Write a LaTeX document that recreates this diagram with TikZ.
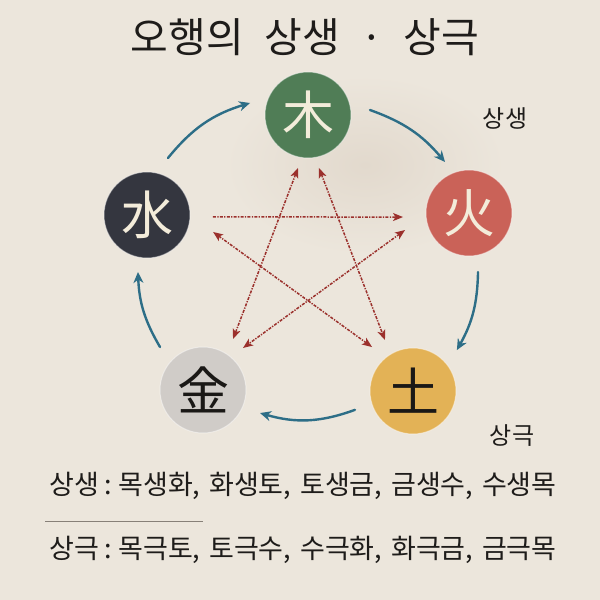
\documentclass[tikz,border=0pt]{standalone}
\usepackage{fontspec}
\newfontfamily\kr{Noto Sans CJK KR}
\usetikzlibrary{calc,arrows.meta}
\definecolor{bg}{RGB}{236,230,220}
\definecolor{blot}{RGB}{226,217,205}
\definecolor{cmu}{RGB}{80,125,86}
\definecolor{cshui}{RGB}{52,54,63}
\definecolor{chuo}{RGB}{202,98,88}
\definecolor{cjin}{RGB}{208,204,200}
\definecolor{ctu}{RGB}{227,178,86}
\definecolor{lightch}{RGB}{243,236,218}
\definecolor{darkch}{RGB}{26,24,22}
\definecolor{blueA}{RGB}{45,110,135}
\definecolor{redA}{RGB}{155,48,44}
\definecolor{txt}{RGB}{30,28,26}
\definecolor{sepc}{RGB}{135,128,120}
\newcommand{\titlefont}{\kr\fontsize{41}{41}\selectfont\spaceskip=0.5em\relax}
\newcommand{\linefont}{\kr\fontsize{27}{27}\selectfont\spaceskip=0.33em\relax}
\begin{document}
\begin{tikzpicture}[x=1pt,y=1pt,
  elem/.style={circle,minimum size=86pt,inner sep=0pt,outer sep=0pt,
    draw=white,draw opacity=0.45,line width=1pt,
    font=\kr\fontsize{52}{52}\selectfont},
  sheng/.style={draw=blueA,line width=2.4pt,line cap=round,
    -{Stealth[length=11pt,width=10pt,inset=3.5pt]}},
  kebase/.style={draw=redA,line width=1.5pt,
    dash pattern=on 3pt off 1.3pt on 1.3pt off 1.3pt},
  ke/.style={kebase,{Stealth[length=10pt,width=8pt,inset=2.5pt]}-{Stealth[length=10pt,width=8pt,inset=2.5pt]}},
  keone/.style={kebase,-{Stealth[length=10pt,width=8pt,inset=2.5pt]}},
  lbl/.style={font=\kr\fontsize{24}{24}\selectfont,text=txt,inner sep=0pt},
  line/.style={font=\linefont,text=txt,inner sep=0pt,anchor=west}
]
\useasboundingbox (0,0) rectangle (600,600);
\fill[bg] (0,0) rectangle (600,600);
\shade[inner color=blot, outer color=bg] (365,435) ellipse (140 and 90);

% title
\node[font=\titlefont,text=txt,inner sep=0pt] (title) at (305,563) {오행의 상생 · 상극};

% elements
\node[elem,fill=cmu,text=lightch] (mu) at (308,485) {木};
\node[elem,fill=chuo,text=lightch] (huo) at (469,387) {火};
\node[elem,fill=ctu,text=darkch] (tu) at (413,209) {土};
\node[elem,fill=cjin,text=darkch] (jin) at (203,210) {金};
\node[elem,fill=cshui,text=lightch] (shui) at (147,385) {水};

% sheng cycle
\draw[sheng] ($(shui)+(69.8:60.7)$) to[bend left=17] ($(mu)+(168.3:59.2)$);
\draw[sheng] ($(mu)+(4.6:62.2)$) to[bend left=15] ($(huo)+(115.2:56.4)$);
\draw[sheng] ($(huo)+(-81.3:59.7)$) to[bend left=14] ($(tu)+(43:60)$);
\draw[sheng] ($(tu)+(198:61)$) to[bend left=18] ($(jin)+(-22:61.5)$);
\draw[sheng] ($(jin)+(135:60.8)$) to[bend left=14] ($(shui)+(261:57.7)$);

% ke star
\draw[ke] ($(mu)+(259.3:53.9)$) -- ($(jin)+(59.5:59.2)$);
\draw[ke] ($(mu)+(281.7:54.1)$) -- ($(tu)+(118.8:58.2)$);
\draw[ke] ($(shui)+(-14.4:68.2)$) -- ($(tu)+(132.98:60.1)$);
\draw[ke] ($(huo)+(194.9:66.2)$) -- ($(jin)+(46.4:58)$);
\draw[keone] ($(shui)+(-1.7:66)$) -- ($(huo)+(183.5:66.1)$);

% labels
\node[lbl] (lsheng) at (505,482) {상생};
\node[lbl] (lke) at (512,164) {상극};

% bottom text
\node[line] (t1) at (49,114) {상생\hspace{6pt}:\hspace{6pt}목생화, 화생토, 토생금, 금생수, 수생목};
\node[line] (t2) at (49,50) {상극\hspace{6pt}:\hspace{6pt}목극토, 토극수, 수극화, 화극금, 금극목};
\coordinate (s1) at (45,79);
\coordinate (s2) at (203,79);
\draw[sepc,line width=0.8pt] (s1) -- (s2);
\end{tikzpicture}
\end{document}
